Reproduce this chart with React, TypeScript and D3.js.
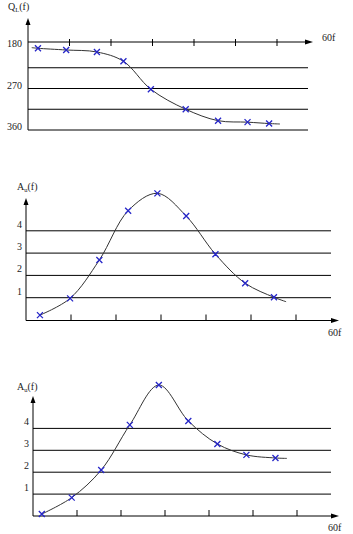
import * as d3 from "d3";

// phase response Q_L(f), degrees
const phaseF = [0.24, 0.92, 1.66, 2.3, 2.96, 3.8, 4.58, 5.29, 5.81];
const phaseDeg = [182.8, 186.5, 190.8, 211, 271.7, 315, 339.8, 343, 346];
const phaseTail = { start: [0.09, 181.4], end: [6.07, 347] };
const phaseTicks = [180, 270, 360];
const phaseGrid = [225, 270, 315, 360];

// amplitude response A_u(f), first measurement
const ampF1 = [0.31, 0.98, 1.63, 2.27, 2.92, 3.56, 4.21, 4.87, 5.51];
const ampA1 = [0.22, 0.97, 2.69, 4.9, 5.68, 4.66, 2.95, 1.65, 1.02];
const ampTail1 = { end: [5.78, 0.82] };

// amplitude response A_u(f), second measurement
const ampF2 = [0.2, 0.88, 1.55, 2.2, 2.86, 3.53, 4.19, 4.85, 5.51];
const ampA2 = [0.09, 0.84, 2.1, 4.16, 5.98, 4.34, 3.29, 2.79, 2.65];
const ampTail2 = { end: [5.77, 2.63] };

const ampTicks = [1, 2, 3, 4];
const fTicks = [1, 2, 3, 4, 5, 6];

const FONT = "'Liberation Serif', 'DejaVu Serif', serif";
const MARK = "#2626c8";

type PanelProps = {
  f: number[];
  v: number[];
  start?: number[];
  end?: number[];
  ox: number; // y-axis x
  axisY: number; // x-axis y
  topY: number; // y arrow tip
  arrowTip: number; // x arrow tip
  gridRight: number;
  xStep: number;
  yDomain: [number, number];
  yRange: [number, number];
  grid: number[];
  ticks: number[];
  tickLabelX: number;
  tickLabelAnchor: "start" | "end";
  tickLabelDy: number;
  tickDir: "up" | "cross";
  title: string;
  sub: string;
  titleX: number;
  titleY: number;
  xLabelX: number;
  xLabelY: number;
};

const Panel = (p: PanelProps) => {
  const x = d3.scaleLinear().domain([0, 1]).range([p.ox, p.ox + p.xStep]);
  const y = d3.scaleLinear().domain(p.yDomain).range(p.yRange);
  const pts: [number, number][] = p.f.map((d, i) => [d, p.v[i]]);
  const curvePts: [number, number][] = [
    ...(p.start ? [p.start as [number, number]] : []),
    ...pts,
    ...(p.end ? [p.end as [number, number]] : []),
  ];
  const line = d3
    .line<[number, number]>()
    .x((d) => x(d[0]))
    .y((d) => y(d[1]))
    .curve(d3.curveCatmullRom.alpha(0.5));

  const s = 3;
  const bottom = Math.max(p.axisY, ...p.grid.map((g) => y(g)));

  return (
    <g>
      {/* grid lines */}
      {p.grid.map((g) => (
        <line key={g} x1={p.ox} x2={p.gridRight} y1={y(g)} y2={y(g)} stroke="#000" strokeWidth={1} />
      ))}
      {/* axes */}
      <line x1={p.ox} x2={p.ox} y1={p.topY + 5} y2={bottom} stroke="#000" strokeWidth={1} />
      <path d={`M${p.ox},${p.topY} L${p.ox - 2.5},${p.topY + 7} L${p.ox + 2.5},${p.topY + 7} Z`} fill="#000" />
      <line x1={p.ox} x2={p.arrowTip - 5} y1={p.axisY} y2={p.axisY} stroke="#000" strokeWidth={1} />
      <path
        d={`M${p.arrowTip},${p.axisY} L${p.arrowTip - 8},${p.axisY - 2.5} L${p.arrowTip - 8},${p.axisY + 2.5} Z`}
        fill="#000"
      />
      {fTicks.map((t) => (
        <line
          key={t}
          x1={x(t)}
          x2={x(t)}
          y1={p.tickDir === "up" ? p.axisY - 6 : p.axisY - 3}
          y2={p.tickDir === "up" ? p.axisY : p.axisY + 4}
          stroke="#000"
          strokeWidth={1}
        />
      ))}
      {/* tick labels */}
      {p.ticks.map((t) => (
        <text
          key={t}
          x={p.tickLabelX}
          y={y(t) + p.tickLabelDy}
          textAnchor={p.tickLabelAnchor}
          fontFamily={FONT}
          fontSize={10}
          fill="#222"
        >
          {t}
        </text>
      ))}
      <text x={p.titleX} y={p.titleY} fontFamily={FONT} fontSize={10} fill="#222">
        {p.title}
        <tspan fontSize={6.5} dy={2}>{p.sub}</tspan>
        <tspan dy={-2}>(f)</tspan>
      </text>
      <text x={p.xLabelX} y={p.xLabelY} fontFamily={FONT} fontSize={10} fill="#222">
        60f
      </text>
      {/* curve */}
      <path d={line(curvePts) ?? ""} fill="none" stroke="#333" strokeWidth={1} />
      {pts.map((d, i) => {
        const cx = x(d[0]);
        const cy = y(d[1]);
        return (
          <path
            key={i}
            d={`M${cx - s},${cy - s}L${cx + s},${cy + s}M${cx - s},${cy + s}L${cx + s},${cy - s}`}
            stroke={MARK}
            strokeWidth={1.3}
          />
        );
      })}
    </g>
  );
};

export default function App() {
  return (
    <svg width={353} height={534} style={{ position: "absolute", left: 0, top: 0, background: "#fff" }}>
      <rect width={353} height={534} fill="#fff" />
      <Panel
        f={phaseF}
        v={phaseDeg}
        start={phaseTail.start}
        end={phaseTail.end}
        ox={28}
        axisY={42}
        topY={18}
        arrowTip={313}
        gridRight={308}
        xStep={41.5}
        yDomain={[180, 360]}
        yRange={[47, 130]}
        grid={phaseGrid}
        ticks={phaseTicks}
        tickLabelX={7}
        tickLabelAnchor="start"
        tickLabelDy={0}
        tickDir="cross"
        title="Q"
        sub="L"
        titleX={8}
        titleY={10}
        xLabelX={322}
        xLabelY={41}
      />
      <Panel
        f={ampF1}
        v={ampA1}
        end={ampTail1.end}
        ox={26}
        axisY={320.5}
        topY={198}
        arrowTip={339}
        gridRight={331}
        xStep={45}
        yDomain={[0, 1]}
        yRange={[320, 297.7]}
        grid={ampTicks}
        ticks={ampTicks}
        tickLabelX={22}
        tickLabelAnchor="end"
        tickLabelDy={-3}
        tickDir="up"
        title="A"
        sub="u"
        titleX={17}
        titleY={190}
        xLabelX={328}
        xLabelY={336}
      />
      <Panel
        f={ampF2}
        v={ampA2}
        end={ampTail2.end}
        ox={33}
        axisY={516}
        topY={396}
        arrowTip={339}
        gridRight={331}
        xStep={44}
        yDomain={[0, 1]}
        yRange={[516, 494.1]}
        grid={ampTicks}
        ticks={ampTicks}
        tickLabelX={29}
        tickLabelAnchor="end"
        tickLabelDy={-3}
        tickDir="up"
        title="A"
        sub="u"
        titleX={17}
        titleY={390}
        xLabelX={328}
        xLabelY={531}
      />
    </svg>
  );
}
